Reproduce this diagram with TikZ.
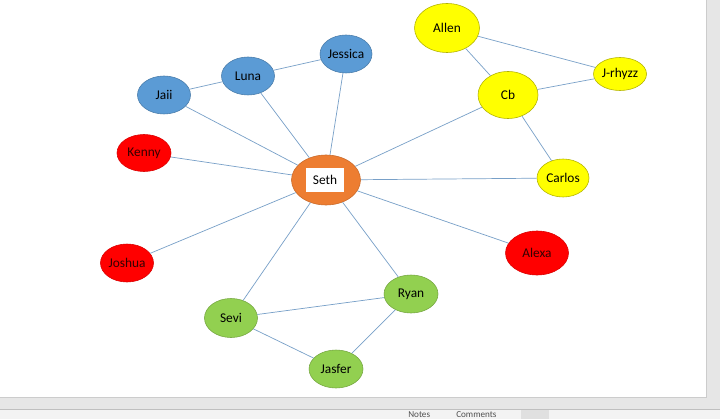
\documentclass[tikz,border=0pt]{standalone}
\usepackage{fontspec}
\setmainfont{Carlito}
\usepackage{tikz}
\usetikzlibrary{shapes.geometric, positioning}
\definecolor{nblue}{RGB}{91,155,213}
\definecolor{norange}{RGB}{237,125,49}
\definecolor{nyellow}{RGB}{255,255,0}
\definecolor{nred}{RGB}{255,0,0}
\definecolor{ngreen}{RGB}{146,208,80}
\definecolor{edgeclr}{RGB}{120,160,200}
\definecolor{winbg}{RGB}{230,230,230}
\definecolor{barbg}{RGB}{243,243,243}
\definecolor{bartxt}{RGB}{80,80,80}
\newcommand{\pxl}{0.7113pt}
\tikzset{
  person/.style={ellipse, inner sep=0pt, minimum width=53*\pxl, minimum height=38*\pxl,
    font=\fontsize{9.5}{11}\selectfont, line width=0.4pt},
  blueguy/.style={person, fill=nblue, draw=nblue!80!black},
  redguy/.style={person, fill=nred, draw=nred!85!black, text=black!80!red},
  yellowguy/.style={person, fill=nyellow, draw=nyellow!70!black},
  greenguy/.style={person, fill=ngreen, draw=ngreen!80!black},
  bartext/.style={font=\fontsize{6.5}{7}\selectfont, text=bartxt, anchor=west, inner sep=0pt},
  link/.style={draw=edgeclr, line width=0.5pt}
}

\begin{document}
\begin{tikzpicture}[x=0.025cm, y=-0.025cm]
  \useasboundingbox (0,0) rectangle (720,419);
  \clip (0,0) rectangle (720,419);
  % window background
  \fill[winbg] (0,0) rectangle (720,419);
  \fill[white] (0,0) rectangle (706,397);
  \draw[black!20] (706,0) -- (706,397) -- (0,397);
  \fill[barbg] (0,409) rectangle (720,419);
  \draw[black!25] (0,409) -- (720,409);
  \fill[black!12] (521,410) rectangle (549,419);
  \node[bartext] (notes) at (408,414.5) {Notes};
  \node[bartext] (comments) at (456,414.5) {Comments};

  % center
  \node[person, fill=norange, draw=norange!85!black, minimum width=69*\pxl, minimum height=50*\pxl] (seth) at (326,180) {};
  \node[rectangle, fill=white, minimum width=38*\pxl, minimum height=23*\pxl, inner sep=0pt,
    font=\fontsize{9.5}{11}\selectfont] (sethlbl) at (325,180) {Seth};

  % blue group
  \node[blueguy, minimum width=52*\pxl] (jessica) at (346,54) {Jessica};
  \node[blueguy] (luna) at (248,76) {Luna};
  \node[blueguy] (jaii) at (164,95) {Jaii};

  % red ones
  \node[redguy, minimum width=54*\pxl, minimum height=37*\pxl] (kenny) at (144,153) {Kenny};
  \node[redguy] (joshua) at (127,263) {Joshua};
  \node[redguy, minimum width=63*\pxl, minimum height=44*\pxl] (alexa) at (537,253) {Alexa};

  % yellow group
  \node[yellowguy, minimum width=65*\pxl, minimum height=49*\pxl] (allen) at (447,28) {Allen};
  \node[yellowguy, minimum height=33*\pxl] (jrhyzz) at (620,74) {J-rhyzz};
  \node[yellowguy, minimum width=60*\pxl, minimum height=47*\pxl] (cb) at (508,95) {Cb};
  \node[yellowguy, minimum width=52*\pxl] (carlos) at (563,178) {Carlos};

  % green group
  \node[greenguy, minimum height=39*\pxl] (sevi) at (231,318) {Sevi};
  \node[greenguy, minimum width=54*\pxl] (ryan) at (411,294) {Ryan};
  \node[greenguy, minimum width=54*\pxl] (jasfer) at (336,369) {Jasfer};

  % links
  \foreach \other in {jessica, luna, jaii, kenny, joshua, sevi, ryan, alexa, carlos, cb}
    \draw[link] (seth) -- (\other);
  \draw[link] (jaii) -- (luna);
  \draw[link] (luna) -- (jessica);
  \draw[link] (allen) -- (cb);
  \draw[link] (allen) -- (jrhyzz);
  \draw[link] (cb) -- (jrhyzz);
  \draw[link] (cb) -- (carlos);
  \draw[link] (sevi) -- (ryan);
  \draw[link] (sevi) -- (jasfer);
  \draw[link] (ryan) -- (jasfer);
\end{tikzpicture}
\end{document}
